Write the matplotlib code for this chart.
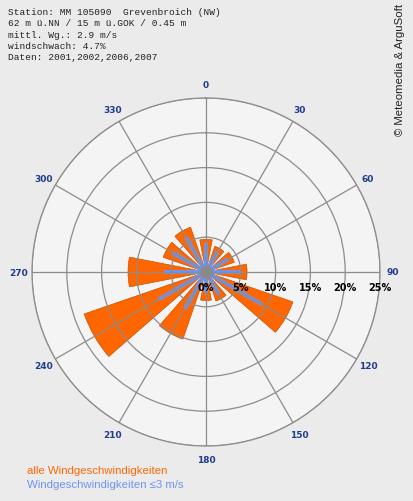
import numpy as np
import matplotlib
matplotlib.use("Agg")
import matplotlib.pyplot as plt
from matplotlib.transforms import offset_copy

# Wind directions (degrees) and frequencies (%)
directions = [0, 30, 60, 90, 120, 150, 180, 210, 240, 270, 300, 330]
freq_all = [4.7, 3.9, 4.3, 5.9, 13.2, 4.4, 4.1, 10.2, 18.5, 11.2, 6.5, 6.8]
freq_low = [4.2, 3.3, 3.7, 5.0, 9.3, 3.7, 3.0, 6.1, 7.9, 6.0, 5.6, 5.8]

ring_values = [0, 5, 10, 15, 20, 25]
ring_labels = ["0%", "5%", "10%", "15%", "20%", "25%"]
angle_labels = [str(d) for d in range(0, 360, 30)]

header = ("Station: MM 105090  Grevenbroich (NW)\n"
          "62 m ü.NN / 15 m ü.GOK / 0.45 m\n"
          "mittl. Wg.: 2.9 m/s\n"
          "windschwach: 4.7%\n"
          "Daten: 2001,2002,2006,2007")

orange = "#ff6600"
blue = "#7093f2"
navy = "#1f3d8c"

fig = plt.figure(figsize=(4.13, 5.02), dpi=100)
fig.patch.set_facecolor("#ebebeb")

ax = fig.add_axes([32 / 413, 55 / 502, 348 / 413, 348 / 502], projection="polar")
ax.set_facecolor("#f4f4f4")
ax.set_theta_zero_location("N")
ax.set_theta_direction(-1)
ax.set_ylim(0, 25)

theta = np.deg2rad(directions)
ax.bar(theta, freq_all, width=np.deg2rad(22), color=orange,
       edgecolor="#c85000", linewidth=0.5, zorder=1)
for t, r in zip(theta, freq_low):
    ax.plot([t, t], [0, r], color=blue, lw=2.9, solid_capstyle="butt", zorder=1.5)
ax.plot([0], [0], "o", ms=8, color="#8a8a8a", zorder=3)

ax.set_axisbelow(False)
ax.set_thetagrids(directions, angle_labels, fontsize=6.5, fontweight="bold", color=navy)
ax.tick_params(axis="x", pad=-1)
ax.set_rgrids(ring_values[1:], labels=[""] * 5)
ax.grid(True, color="#8c8c8c", linewidth=0.9)
ax.spines["polar"].set_color("#8c8c8c")
ax.spines["polar"].set_linewidth(0.9)

tr = offset_copy(ax.transData, fig=fig, y=-7, units="points")
for v, lab in zip(ring_values, ring_labels):
    ax.text(np.pi / 2, v, lab, transform=tr, ha="center", va="top",
            fontsize=7, fontweight="bold", color="black", zorder=4)

fig.text(8 / 413, 1 - 8 / 502, header, ha="left", va="top",
         family="Liberation Mono", fontsize=6.8, color="#222222", linespacing=1.33)
fig.text(400 / 413, 1 - 4 / 502, "© Meteomedia & ArguSoft", rotation=90,
         ha="center", va="top", family="Liberation Sans", fontsize=8.2, color="#222222")
fig.text(27 / 413, 1 - 471 / 502, "alle Windgeschwindigkeiten", ha="left", va="center",
         family="Liberation Sans", fontsize=8.2, color=orange)
fig.text(27 / 413, 1 - 485 / 502, "Windgeschwindigkeiten ≤3 m/s", ha="left", va="center",
         family=["Liberation Sans", "DejaVu Sans"], fontsize=8.2, color=blue)

fig.savefig("out.png", dpi=100, facecolor=fig.get_facecolor())
